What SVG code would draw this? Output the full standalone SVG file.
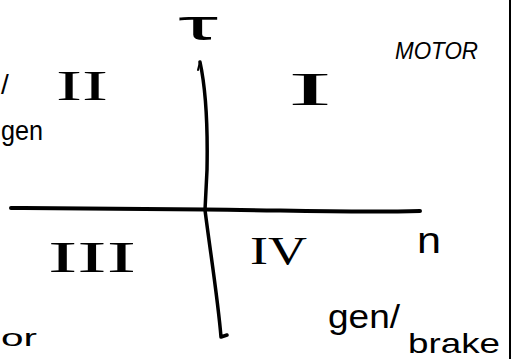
<svg xmlns="http://www.w3.org/2000/svg" width="514" height="359" viewBox="0 0 514 359">
<style>
.ink{fill:none;stroke:#000;stroke-linecap:round;stroke-linejoin:round}
.num{font-family:"Liberation Serif",serif;fill:#000}
.hw{font-family:"Liberation Sans",sans-serif;fill:#000}
</style>
<rect width="514" height="359" fill="#fff"/>
<g id="connectors">
<path class="ink" stroke-width="4" d="M11,208 C80,208 150,209 205,209.5 C280,210 350,213 420,211"/>
<path class="ink" stroke-width="3.5" d="M200,62 C205,85 208,120 207,170 L205,210 C210,250 218,300 221,337 L227,335"/>
<path class="ink" stroke-width="2" d="M200,62 L198,70"/>
<path class="ink" stroke-width="2" d="M510,0 L510,359"/>
</g>
<g id="tau"><text class="hw" x="178" y="40" font-size="42" textLength="40" lengthAdjust="spacingAndGlyphs">τ</text></g>
<g id="q1"><text class="num" x="288" y="105" font-size="46" textLength="44" lengthAdjust="spacingAndGlyphs">I</text></g>
<g id="q2"><text class="num" x="56" y="100" font-size="42" textLength="52" lengthAdjust="spacingAndGlyphs">II</text></g>
<g id="q3"><text class="num" x="48" y="272" font-size="44" textLength="88" lengthAdjust="spacingAndGlyphs">III</text></g>
<g id="q4"><text class="num" x="250" y="264" font-size="40" textLength="57" lengthAdjust="spacingAndGlyphs">IV</text></g>
<g id="motor"><text class="hw" x="395" y="59" font-size="24" font-style="italic" textLength="83" lengthAdjust="spacingAndGlyphs">MOTOR</text></g>
<g id="n-axis"><text class="hw" x="417" y="253" font-size="36" textLength="24" lengthAdjust="spacingAndGlyphs">n</text></g>
<g id="genbrake">
<text class="hw" x="328" y="328" font-size="34" textLength="72" lengthAdjust="spacingAndGlyphs">gen/</text>
<text class="hw" x="408" y="353" font-size="28" textLength="92" lengthAdjust="spacingAndGlyphs">brake</text>
</g>
<g id="left-labels">
<text class="hw" x="1" y="94" font-size="28">/</text>
<text class="hw" x="1" y="140" font-size="28" textLength="42" lengthAdjust="spacingAndGlyphs">gen</text>
<text class="hw" x="1" y="346" font-size="24" textLength="36" lengthAdjust="spacingAndGlyphs">or</text>
</g>
</svg>
